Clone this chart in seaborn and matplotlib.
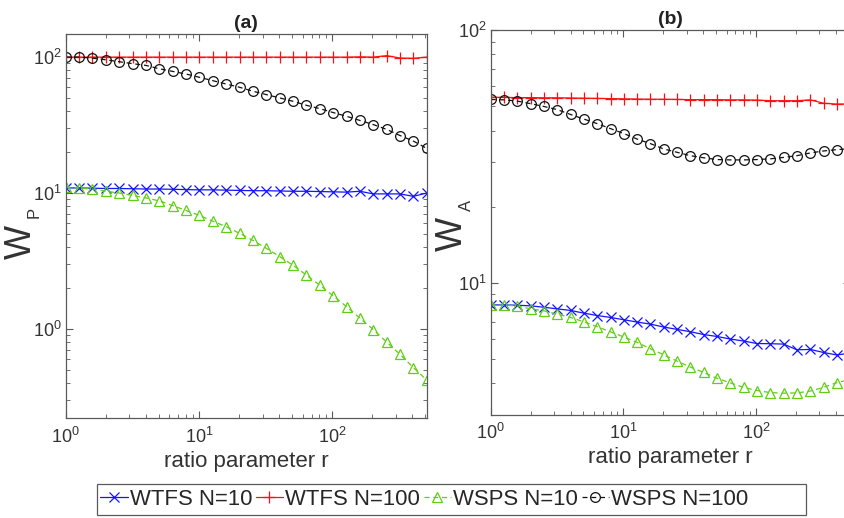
import numpy as np
import pandas as pd
import matplotlib
matplotlib.use('Agg')
import matplotlib.pyplot as plt
import seaborn as sns
from matplotlib.patches import Rectangle
from matplotlib.ticker import LogLocator, NullFormatter

# ratio parameter r (2^(k/3), k = 0..27)
r = [1, 1.26, 1.587, 2, 2.52, 3.175, 4, 5.04, 6.35, 8, 10.08, 12.7, 16, 20.16,
     25.4, 32, 40.32, 50.8, 64, 80.63, 101.6, 128, 161.3, 203.2, 256, 322.5, 406.4, 512]

labels = ['WTFS N=10', 'WTFS N=100', 'WSPS N=10', 'WSPS N=100']

# panel (a): W_P
wtfs10_a = [10.9, 10.9, 10.85, 10.8, 10.8, 10.75, 10.7, 10.7, 10.65, 10.6, 10.55, 10.55, 10.5, 10.45,
            10.4, 10.4, 10.35, 10.3, 10.3, 10.25, 10.2, 10.15, 10.3, 9.85, 9.85, 9.85, 9.45, 10.0]
wtfs100_a = [100, 100, 100, 100, 100, 100, 100, 100, 100, 100, 100, 100, 100, 100,
             100, 100, 100, 100, 100, 100, 100, 100, 100.5, 100, 102.5, 98.5, 98, 100]
wsps10_a = [11.0, 10.9, 10.7, 10.3, 10.0, 9.6, 9.2, 8.75, 8.09, 7.44, 6.84, 6.21, 5.65, 5.05,
            4.48, 3.92, 3.41, 2.94, 2.49, 2.10, 1.75, 1.46, 1.20, 0.99, 0.80, 0.65, 0.52, 0.42]
wsps100_a = [100, 100, 98.3, 95.6, 92.5, 89.5, 86.9, 82.1, 78.5, 75.1, 71.0, 67.1, 63.4, 60.0,
             56.1, 53.0, 50.1, 47.3, 44.2, 41.8, 39.1, 36.7, 34.2, 31.9, 29.4, 26.5, 24.1, 21.3]

# panel (b): W_A
wtfs10_b = [8.16, 8.16, 8.14, 8.09, 7.99, 7.87, 7.76, 7.57, 7.41, 7.28, 7.13, 6.98, 6.85, 6.67,
            6.53, 6.39, 6.23, 6.12, 5.98, 5.87, 5.74, 5.73, 5.71, 5.42, 5.44, 5.29, 5.17, 5.26]
wtfs100_b = [54.2, 54.1, 54.0, 54.0, 53.9, 53.9, 53.8, 53.7, 53.6, 53.5, 53.4, 53.3, 53.2, 53.2,
             53.1, 53.0, 53.0, 53.0, 52.9, 52.9, 52.8, 52.5, 52.5, 52.5, 52.9, 51.3, 50.9, 51.0]
wsps10_b = [8.16, 8.14, 8.09, 7.87, 7.73, 7.50, 7.28, 7.00, 6.69, 6.39, 6.09, 5.80, 5.47, 5.18,
            4.89, 4.63, 4.41, 4.18, 4.01, 3.85, 3.74, 3.67, 3.65, 3.66, 3.72, 3.85, 4.02, 4.13]
wsps100_b = [53.1, 52.9, 52.3, 51.1, 49.8, 48.4, 46.3, 44.4, 42.6, 40.7, 38.9, 37.0, 35.5, 33.8,
             32.8, 31.8, 31.2, 30.7, 30.6, 30.6, 30.7, 30.9, 31.3, 31.8, 32.6, 33.2, 33.6, 33.9]

sns.set_theme(style='ticks')
plt.rcParams['font.family'] = ['Liberation Sans', 'DejaVu Sans']
plt.rcParams['mathtext.fontset'] = 'custom'
plt.rcParams['mathtext.rm'] = 'Liberation Sans'
plt.rcParams['mathtext.it'] = 'Liberation Sans:italic'
plt.rcParams['mathtext.default'] = 'regular'

axis_col = '#5a5a5a'
text_col = '#333333'

line_styles = {
    'WTFS N=10': dict(color='#1414ff', marker='x', linestyle='-', markersize=6.5),
    'WTFS N=100': dict(color='#ff1010', marker='+', linestyle='-', markersize=9),
    'WSPS N=10': dict(color='#5fcf14', marker='^', linestyle=(0, (4, 3)), markersize=7),
    'WSPS N=100': dict(color='#111111', marker='o', linestyle=(0, (4, 3)), markersize=7),
}

fig = plt.figure(figsize=(8.45, 5.18), dpi=100)
ax_a = fig.add_axes([0.0778, 0.1925, 0.4272, 0.7419])
ax_b = fig.add_axes([0.5807, 0.1994, 0.4254, 0.7427])

panels = [
    (ax_a, [wtfs10_a, wtfs100_a, wsps10_a, wsps100_a], '(a)', (0.22, 148)),
    (ax_b, [wtfs10_b, wtfs100_b, wsps10_b, wsps100_b], '(b)', (3.0, 100)),
]

for ax, series, title, ylim in panels:
    for name, vals in zip(labels, series):
        st = line_styles[name]
        sns.lineplot(x=r, y=vals, ax=ax, label=name, legend=False,
                     color=st['color'], marker=st['marker'], linestyle=st['linestyle'],
                     markersize=st['markersize'], markeredgecolor=st['color'],
                     markerfacecolor='none', markeredgewidth=0.9, linewidth=0.9)
    ax.set_xscale('log')
    ax.set_yscale('log')
    ax.set_xlim(1, 512)
    ax.set_ylim(*ylim)
    for axis in (ax.xaxis, ax.yaxis):
        axis.set_major_locator(LogLocator(base=10))
        axis.set_minor_locator(LogLocator(base=10, subs=np.arange(2, 10)))
        axis.set_minor_formatter(NullFormatter())
    ax.tick_params(which='both', direction='in', top=True, right=True,
                   color=axis_col, labelcolor=text_col, labelsize=13)
    ax.tick_params(which='major', length=5, width=0.8)
    ax.tick_params(which='minor', length=3, width=0.6)
    ax.tick_params(axis='x', pad=6)
    ax.tick_params(axis='y', pad=3)
    for sp in ax.spines.values():
        sp.set_color(axis_col)
        sp.set_linewidth(0.9)
    ax.set_title(title, fontsize=14, fontweight='bold', color='#222222', pad=4)
    ax.set_xlabel('ratio parameter r', fontsize=16, color=text_col, labelpad=3)
    ax.set_ylabel('W', fontsize=26, color=text_col)
    ax.grid(False)

# y labels: big W with a small subscript, as in the original
ax_a.yaxis.set_label_coords(-0.075, 0.46)
ax_a.text(-0.088, 0.535, 'P', transform=ax_a.transAxes, rotation=90,
          fontsize=12, color=text_col, ha='center', va='center')
ax_b.yaxis.set_label_coords(-0.058, 0.47)
ax_b.text(-0.068, 0.545, 'A', transform=ax_b.transAxes, rotation=90,
          fontsize=12, color=text_col, ha='center', va='center')

handles, names = ax_a.get_legend_handles_labels()
fig.legend(handles, names, loc='center left', bbox_to_anchor=(100 / 845, 0.0357),
           ncol=4, frameon=False, fontsize=15.9, handlelength=1.25,
           handletextpad=0.1, columnspacing=0.15, borderpad=0, borderaxespad=0)
fig.patches.append(Rectangle((97 / 845, 1 - 515 / 518), 709 / 845, 31 / 518,
                             transform=fig.transFigure, fill=False,
                             edgecolor=axis_col, linewidth=0.9))

fig.savefig('out.png', dpi=100)
